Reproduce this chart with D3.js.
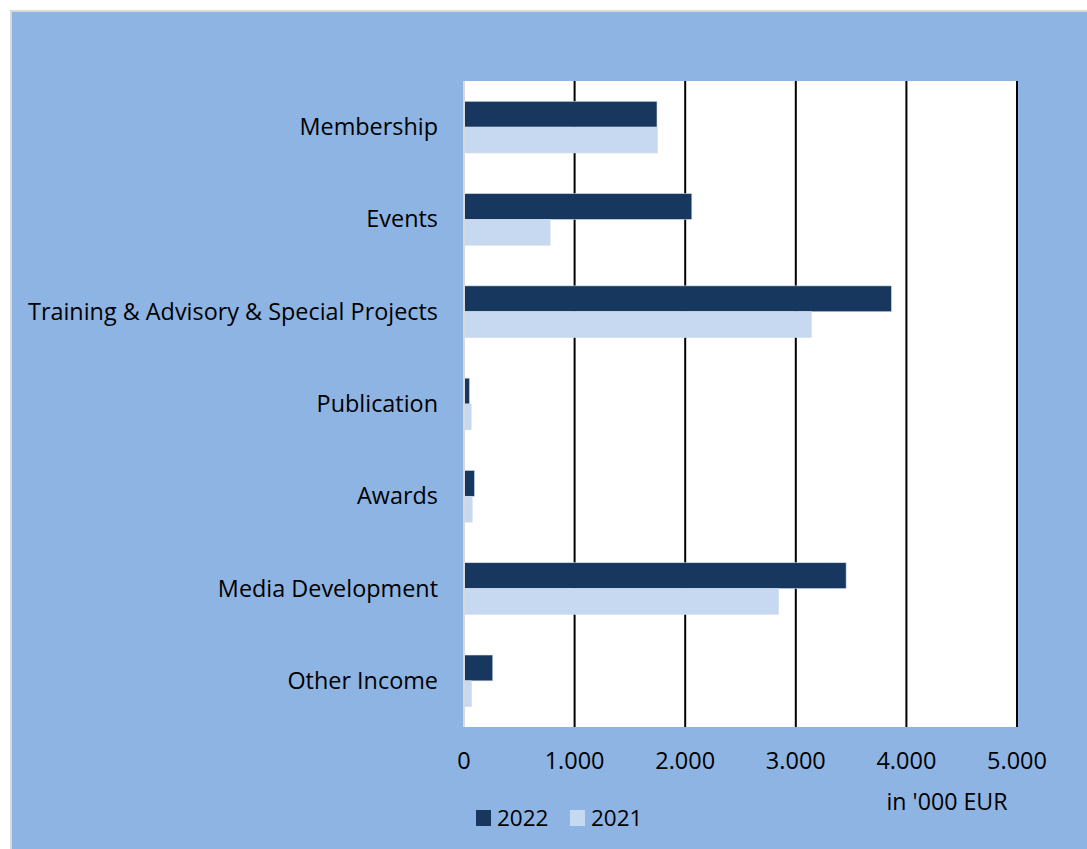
<!DOCTYPE html>
<html><head><meta charset="utf-8">
<script src="https://cdn.jsdelivr.net/npm/d3@7"></script>
<style>body{margin:0;background:#fff;}svg{display:block;}</style>
</head><body>
<svg id="c" width="1087" height="849"></svg>
<script>
const categories = ["Membership","Events","Training & Advisory & Special Projects","Publication","Awards","Media Development","Other Income"];
const values2022 = [1745, 2060, 3865, 50, 95, 3455, 260];
const values2021 = [1748, 779, 3142, 65, 74, 2843, 68];
const seriesNames = ["2022","2021"];
const xTicks = [0,1000,2000,3000,4000,5000];
const tickLabels = ["0","1.000","2.000","3.000","4.000","5.000"];
const unitLabel = "in '000 EUR";

const colors = {"2022":"#17375e","2021":"#c6d9f1"};
const font = "'Open Sans', sans-serif";
const svg = d3.select("#c");
const W = 1087, H = 849;
const m = {left:464, top:81, right:1017, bottom:727};

svg.append("rect").attr("x",11).attr("y",11).attr("width",W).attr("height",H)
  .attr("fill","#8eb4e3").attr("stroke","#d9d9d9").attr("stroke-width",2);

const x = d3.scaleLinear().domain([0,5000]).range([m.left, m.right]);
const y = d3.scaleBand().domain(categories).range([m.top, m.bottom]).paddingInner(0.44).paddingOuter(0.22);
const ys = d3.scaleBand().domain(seriesNames).range([0, y.bandwidth()]);

svg.append("rect").attr("x",m.left).attr("y",m.top).attr("width",m.right-m.left).attr("height",m.bottom-m.top).attr("fill","#fff");

// gridlines
svg.append("g").selectAll("line").data(xTicks.slice(1)).join("line")
  .attr("x1",d=>x(d)).attr("x2",d=>x(d)).attr("y1",m.top).attr("y2",m.bottom)
  .attr("stroke","#000").attr("stroke-width",2);

const data = categories.map((c,i)=>({cat:c, vals:[{s:"2022",v:values2022[i]},{s:"2021",v:values2021[i]}]}));
const g = svg.append("g");
data.forEach(d=>{
  g.selectAll(null).data(d.vals).join("rect")
    .attr("x",x(0)).attr("y",e=>y(d.cat)+ys(e.s))
    .attr("width",e=>x(e.v)-x(0)).attr("height",ys.bandwidth())
    .attr("fill",e=>colors[e.s]).attr("stroke","#d0dcec").attr("stroke-width",0.6);
});

// left axis line
svg.append("line").attr("x1",m.left).attr("x2",m.left).attr("y1",m.top).attr("y2",m.bottom)
  .attr("stroke","#d9d9d9").attr("stroke-width",2);

// category labels
svg.append("g").selectAll("text").data(categories).join("text")
  .attr("x",438).attr("y",d=>y(d)+y.bandwidth()/2-1)
  .attr("text-anchor","end").attr("dominant-baseline","central")
  .attr("font-family",font).attr("font-size",23.4).attr("fill","#000").text(d=>d);

// x tick labels
svg.append("g").selectAll("text").data(xTicks).join("text")
  .attr("x",d=>x(d)).attr("y",760).attr("text-anchor","middle").attr("dominant-baseline","central")
  .attr("font-family",font).attr("font-size",23.5).attr("fill","#000").text((d,i)=>tickLabels[i]);

svg.append("text").attr("x",947).attr("y",801).attr("text-anchor","middle").attr("dominant-baseline","central")
  .attr("font-family",font).attr("font-size",23.2).attr("fill","#000").text(unitLabel);

// legend
const leg = svg.append("g");
const legX = [476, 570];
seriesNames.forEach((s,i)=>{
  leg.append("rect").attr("x",legX[i]).attr("y",810).attr("width",15).attr("height",16).attr("fill",colors[s]);
  leg.append("text").attr("x",legX[i]+21).attr("y",817).attr("dominant-baseline","central")
    .attr("font-family",font).attr("font-size",22.5).attr("fill","#000").text(s);
});
</script>
</body></html>
